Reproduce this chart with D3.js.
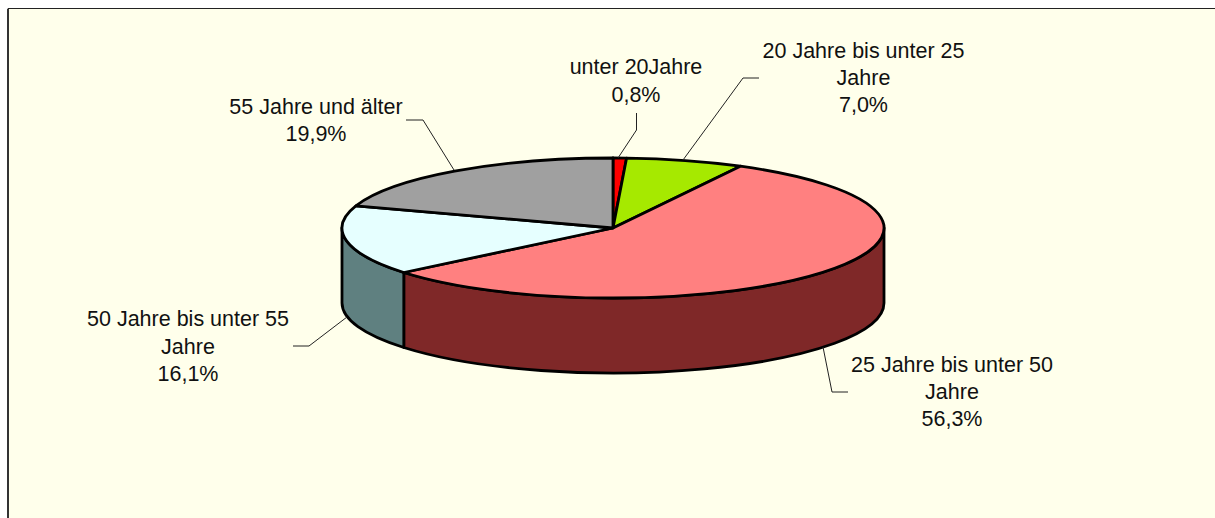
<!DOCTYPE html>
<html><head><meta charset="utf-8">
<script src="https://cdn.jsdelivr.net/npm/d3@7/dist/d3.min.js"></script>
<style>html,body{margin:0;padding:0;background:#fff}svg{display:block}text{font-family:"Liberation Sans",Arial,sans-serif;font-size:21.5px;fill:#111}</style>
</head><body><div id="c"></div>
<script>
const categories = ["unter 20Jahre","20 Jahre bis unter 25 Jahre","25 Jahre bis unter 50 Jahre","50 Jahre bis unter 55 Jahre","55 Jahre und älter"];
const values = [0.8,7.0,56.3,16.1,19.9];
const topColors = ["#ff0000","#a6e900","#ff8080","#e6ffff","#a0a0a0"];
const sideColors = ["#800000","#537400","#7f2828","#5f8080","#505050"];
const labelLines = [["unter 20Jahre","0,8%"],["20 Jahre bis unter 25","Jahre","7,0%"],["25 Jahre bis unter 50","Jahre","56,3%"],["50 Jahre bis unter 55","Jahre","16,1%"],["55 Jahre und älter","19,9%"]];
const labelCenters = [[636,88],[863.5,85],[952,399],[188,353.5],[316,127.5]];
const leaders = [[[636.5,113],[636.5,130],[618,158]],[[759,78],[743,78],[683,160]],[[848,392],[832,392],[823,347]],[[293,346],[309,346],[347,317]],[[406,120],[423,120],[454,170]]];

const W=1215,H=518,cx=613,cy=228,rx=271,ry=70,depth=75;
const svg=d3.select("#c").append("svg").attr("width",W).attr("height",H);
svg.append("rect").attr("x",8).attr("y",8).attr("width",W).attr("height",H).attr("fill","#ffffeb");
svg.append("path").attr("d",`M${W},8.5H8V${H}`).attr("fill","none").attr("stroke","#222").attr("stroke-width",1);
svg.append("path").attr("d",`M8,9V${H}`).attr("fill","none").attr("stroke","#333").attr("stroke-width",2);

const pie=d3.pie().sort(null).value(d=>d)(values);
const px=a=>cx+rx*Math.sin(a), py=(a,dz=0)=>cy-ry*Math.cos(a)+dz;
const ell=(a0,a1,dz=0)=>`A${rx},${ry} 0 ${Math.abs(a1-a0)>Math.PI?1:0} ${a1>a0?1:0} ${px(a1)},${py(a1,dz)}`;
const P=Math.PI, SW=2.8;
// side walls: only the front half of the rim (90deg..270deg) is visible
pie.forEach((s,i)=>{
  const a0=Math.max(s.startAngle,P/2),a1=Math.min(s.endAngle,3*P/2);
  if(a1<=a0) return;
  svg.append("path").attr("d",`M${px(a0)},${py(a0)}${ell(a0,a1)}L${px(a1)},${py(a1,depth)}${ell(a1,a0,depth)}Z`)
    .attr("fill",sideColors[i]).attr("stroke","#000").attr("stroke-width",SW).attr("stroke-linejoin","round");
});
// top faces
pie.forEach((s,i)=>{
  svg.append("path").attr("d",`M${cx},${cy}L${px(s.startAngle)},${py(s.startAngle)}${ell(s.startAngle,s.endAngle)}Z`)
    .attr("fill",topColors[i]).attr("stroke","#000").attr("stroke-width",SW).attr("stroke-linejoin","round");
});
// leaders
const line=d3.line();
leaders.forEach(l=>svg.append("path").attr("d",line(l)).attr("fill","none").attr("stroke","#222").attr("stroke-width",1));
// labels
labelLines.forEach((ls,i)=>{
  const n=ls.length,t=svg.append("text").attr("text-anchor","middle");
  ls.forEach((s,j)=>t.append("tspan").attr("x",labelCenters[i][0]).attr("y",labelCenters[i][1]+(j-(n-1)/2)*27.2).text(s));
});
</script></body></html>
